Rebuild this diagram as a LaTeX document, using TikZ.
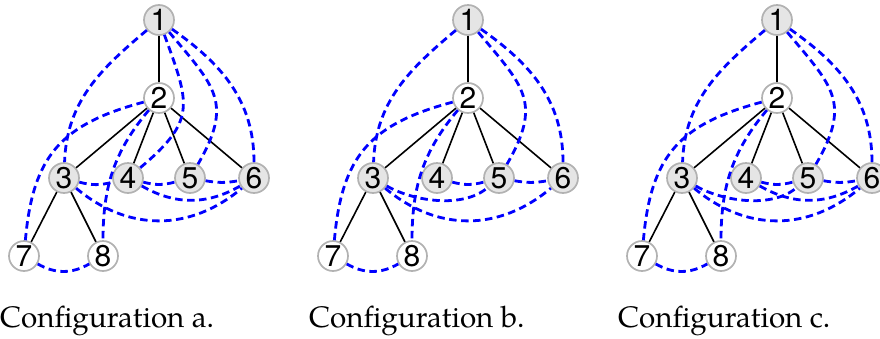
\documentclass[tikz,border=0pt]{standalone}
\usepackage{fontspec}
\newfontfamily\numfont{TeX Gyre Heros}
\newfontfamily\capfont{TeX Gyre Pagella}
\tikzset{
  vtx/.style={circle, draw=black!30, line width=1.7pt, minimum size=30pt, inner sep=0pt,
    font=\numfont\fontsize{30}{30}\selectfont},
  dark/.style={vtx, fill=black!10},
  light/.style={vtx, fill=white},
  tree/.style={line width=1.6pt, black},
  extra/.style={line width=2.8pt, blue, dash pattern=on 7.5pt off 4.5pt},
  captext/.style={anchor=base west, inner sep=0pt, font=\capfont\fontsize{29.6}{36}\selectfont}
}
\newcommand\mkconfig[1]{%
  \node[dark]  (#11) at (159,-20) {1};
  \node[light] (#12) at (159,-98) {2};
  \node[dark]  (#13) at (64,-178) {3};
  \node[dark]  (#14) at (128,-178) {4};
  \node[dark]  (#15) at (190,-178) {5};
  \node[dark]  (#16) at (254,-178) {6};
  \node[light] (#17) at (24,-256) {7};
  \node[light] (#18) at (103,-256) {8};
  \draw[tree] (#11) -- (#12);
  \draw[tree] (#12) -- (#13);
  \draw[tree] (#12) -- (#14);
  \draw[tree] (#12) -- (#15);
  \draw[tree] (#12) -- (#16);
  \draw[tree] (#13) -- (#17);
  \draw[tree] (#13) -- (#18);
  \draw[extra] (#11) to[out=220,in=88] (#13);
  \draw[extra] (#11) to[out=-50,in=60,looseness=1.35] (#15);
  \draw[extra] (#11) to[out=-35,in=90] (#16);
  \draw[extra] (#12) to[out=195,in=85,looseness=1.2] (#17);
  \draw[extra] (#12) to[out=230,in=90] (#18);
  \draw[extra] (#14) to[out=-15,in=195] (#15);
  \draw[extra] (#15) to[out=-10,in=190] (#16);
  \draw[extra] (#13) to[out=-40,in=-140,looseness=1.05] (#16);
  \draw[extra] (#17) to[out=-30,in=-150] (#18);
}
\begin{document}
\begin{tikzpicture}[x=1pt,y=1pt]
\useasboundingbox (0,0) rectangle (880,-338);
% Configuration a
\begin{scope}
  \mkconfig{a}
  \draw[extra] (a1) to[out=-70,in=40,looseness=1.4] (a4);
  \draw[extra] (a3) to[out=-15,in=195] (a4);
  \draw[extra] (a4) to[out=-30,in=-150] (a6);
\end{scope}
% Configuration b
\begin{scope}[xshift=309pt]
  \mkconfig{b}
  \draw[extra] (b3) to[out=-30,in=-140,looseness=0.8] (b5);
\end{scope}
% Configuration c
\begin{scope}[xshift=618pt]
  \mkconfig{c}
  \draw[extra] (c3) to[out=-30,in=-140,looseness=0.8] (c5);
  \draw[extra] (c4) to[out=-30,in=-150] (c6);
\end{scope}
\node[captext] (capa) at (0,-327) {Configuration a.};
\node[captext] (capb) at (309,-327) {Configuration b.};
\node[captext] (capc) at (618,-327) {Configuration c.};
\end{tikzpicture}
\end{document}
